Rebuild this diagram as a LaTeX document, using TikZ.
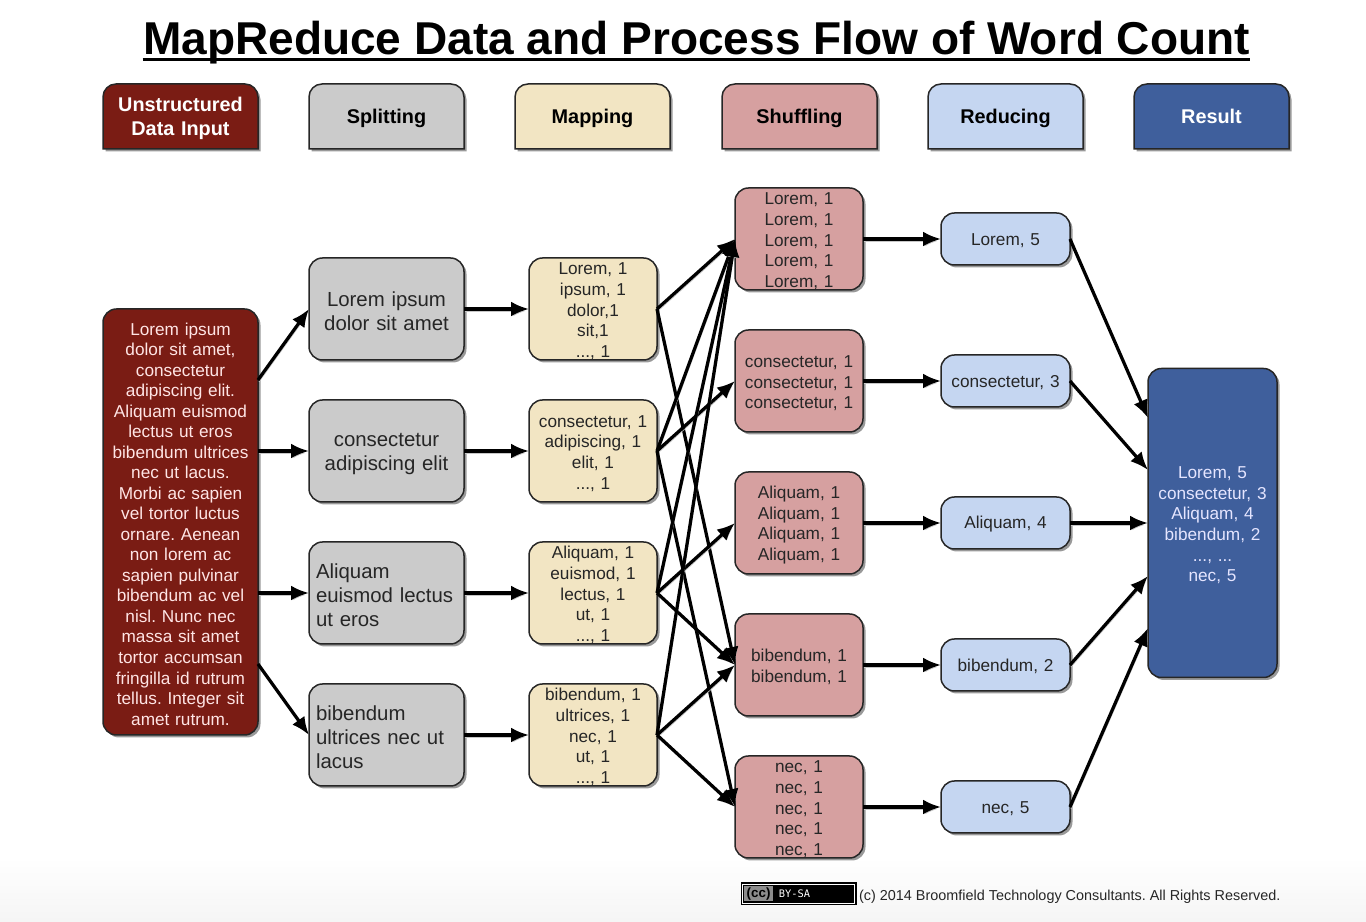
\documentclass[tikz,border=0pt]{standalone}
\usepackage{fontspec}
\setmainfont{Liberation Sans}
\setmonofont{DejaVu Sans Mono}
\usepackage{tikz}
\usetikzlibrary{positioning, arrows.meta, calc, shadows, backgrounds}
\usepackage{xcolor}
\frenchspacing

\definecolor{inputred}{HTML}{7A1C14}
\definecolor{splitgray}{HTML}{CBCBCB}
\definecolor{maptan}{HTML}{F2E5C3}
\definecolor{shufflepink}{HTML}{D6A0A0}
\definecolor{reduceblue}{HTML}{C5D6F1}
\definecolor{resultblue}{HTML}{3F5F9C}

\newcommand{\hdrshape}[2]{%
  \draw[hdrback, fill=#2] (#1.south west) [rounded corners=0.26cm] -- (#1.north west) -- (#1.north east) [sharp corners] -- (#1.south east) -- cycle;}

\begin{document}
\begin{tikzpicture}[
    shdw/.style={drop shadow={shadow xshift=0.05cm, shadow yshift=-0.05cm, opacity=0.4, fill=black}},
    hdr/.style={rectangle, outer sep=0pt, text width=2.8cm, minimum width=3.1cm, minimum height=1.3cm, align=center, font=\fontsize{11.3}{14}\selectfont\bfseries, execute at begin node={\rule{0pt}{10.4pt}}, execute at end node={\rule[-2.4pt]{0pt}{0pt}}},
    hdrback/.style={draw=black!85, line width=0.03cm, shdw},
    boxtop/.store in=\boxtopheight, boxtop=0.95em,
    box/.style={draw=black!85, line width=0.03cm, rectangle, rounded corners=0.27cm, outer sep=0pt, inner ysep=0pt, inner xsep=0.14cm, align=center, shdw, text=black!85, font=\fontsize{9.8}{11.75}\selectfont, execute at begin node={\rule{0pt}{\boxtopheight}}},
    splitbox/.style={box, fill=splitgray, text width=2.82cm, minimum height=2.04cm, font=\fontsize{11.6}{13.7}\selectfont},
    splitleft/.style={splitbox, align=left},
    mapbox/.style={box, fill=maptan, text width=2.28cm, minimum height=2.04cm},
    shufflebox/.style={box, fill=shufflepink, text width=2.28cm, minimum height=2.04cm},
    reducebox/.style={box, fill=reduceblue, text width=2.3cm, minimum height=1.04cm, boxtop=0.85em},
    arr/.style={-{Latex[length=0.36cm, width=0.3cm]}, line width=0.065cm, black, preaction={draw=black!22, transform canvas={shift={(0.02,-0.04)}}}}
]
    \path[use as bounding box] (0,0) rectangle (27.32,18.44);
    \shade[top color=white, bottom color=black!4] (0,0) rectangle (27.32,1.3);

    % title
    \node[inner sep=0pt, font=\fontsize{26.2}{30}\selectfont\bfseries] (title) at (13.93,17.58) {MapReduce Data and Process Flow of Word Count};
    \draw[line width=0.06cm] ([yshift=-0.09cm]title.base west) -- ([yshift=-0.09cm]title.base east);

    % header row
    \node[hdr, text=white] (hInput) at (3.61,16.11) {Unstructured\\Data Input};
    \node[hdr] (hSplit) [right=1.02cm of hInput] {Splitting};
    \node[hdr] (hMap) [right=1.02cm of hSplit] {Mapping};
    \node[hdr] (hShuffle) [right=1.04cm of hMap] {Shuffling};
    \node[hdr] (hReduce) [right=1.02cm of hShuffle] {Reducing};
    \node[hdr, text=white] (hResult) [right=1.02cm of hReduce] {Result};
    \begin{scope}[on background layer]
        \hdrshape{hInput}{inputred}
        \hdrshape{hSplit}{splitgray}
        \hdrshape{hMap}{maptan}
        \hdrshape{hShuffle}{shufflepink}
        \hdrshape{hReduce}{reduceblue}
        \hdrshape{hResult}{resultblue}
    \end{scope}

    % input
    \node[box, fill=inputred, text=white!90!red, text width=2.82cm, minimum height=8.52cm, font=\fontsize{9.8}{11.68}\selectfont] (input) at (3.61,8.0) {Lorem ipsum\\dolor sit amet,\\consectetur\\adipiscing elit.\\Aliquam euismod\\lectus ut eros\\bibendum ultrices\\nec ut lacus.\\Morbi ac sapien\\vel tortor luctus\\ornare. Aenean\\non lorem ac\\sapien pulvinar\\bibendum ac vel\\nisl. Nunc nec\\massa sit amet\\tortor accumsan\\fringilla id rutrum\\tellus. Integer sit\\amet rutrum.};

    % splitting
    \node[splitbox] (split1) at (7.73,12.26) {Lorem ipsum\\dolor sit amet};
    \node[splitbox] (split2) [below=0.8cm of split1] {consectetur\\adipiscing elit};
    \node[splitleft] (split3) [below=0.8cm of split2] {Aliquam\\euismod lectus\\ut eros};
    \node[splitleft] (split4) [below=0.8cm of split3] {bibendum\\ultrices nec ut\\lacus};

    % mapping
    \node[mapbox] (map1) [right=1.3cm of split1] {Lorem, 1\\ipsum, 1\\dolor,1\\sit,1\\..., 1};
    \node[mapbox] (map2) [right=1.3cm of split2] {consectetur, 1\\adipiscing, 1\\elit, 1\\..., 1};
    \node[mapbox] (map3) [right=1.3cm of split3] {Aliquam, 1\\euismod, 1\\lectus, 1\\ut, 1\\..., 1};
    \node[mapbox] (map4) [right=1.3cm of split4] {bibendum, 1\\ultrices, 1\\nec, 1\\ut, 1\\..., 1};

    % shuffling
    \node[shufflebox] (shuffle1) at (15.98,13.66) {Lorem, 1\\Lorem, 1\\Lorem, 1\\Lorem, 1\\Lorem, 1};
    \node[shufflebox] (shuffle2) [below=0.8cm of shuffle1] {consectetur, 1\\consectetur, 1\\consectetur, 1};
    \node[shufflebox] (shuffle3) [below=0.8cm of shuffle2] {Aliquam, 1\\Aliquam, 1\\Aliquam, 1\\Aliquam, 1};
    \node[shufflebox] (shuffle4) [below=0.8cm of shuffle3] {bibendum, 1\\bibendum, 1};
    \node[shufflebox] (shuffle5) [below=0.8cm of shuffle4] {nec, 1\\nec, 1\\nec, 1\\nec, 1\\nec, 1};

    % reducing
    \node[reducebox] (reduce1) [right=1.56cm of shuffle1] {Lorem, 5};
    \node[reducebox] (reduce2) [right=1.56cm of shuffle2] {consectetur, 3};
    \node[reducebox] (reduce3) [right=1.56cm of shuffle3] {Aliquam, 4};
    \node[reducebox] (reduce4) [right=1.56cm of shuffle4] {bibendum, 2};
    \node[reducebox] (reduce5) [right=1.56cm of shuffle5] {nec, 5};

    % result
    \node[box, fill=resultblue, text=white!90!blue, text width=2.3cm, minimum height=6.18cm] (result) [right=1.56cm of reduce3] {Lorem, 5\\consectetur, 3\\Aliquam, 4\\bibendum, 2\\..., ...\\nec, 5};

    \coordinate (inA) at ($(input.east)+(0,2.84)$);
    \coordinate (inB) at (input.east |- split2.west);
    \coordinate (inC) at (input.east |- split3.west);
    \coordinate (inD) at ($(input.east)+(0,-2.84)$);
    \coordinate (resA) at ($(result.west)+(0,2.1)$);
    \coordinate (resB) at ($(result.west)+(0,1.06)$);
    \coordinate (resD) at ($(result.west)+(0,-1.06)$);
    \coordinate (resE) at ($(result.west)+(0,-2.1)$);

    \draw[arr] (inA) -- (split1.west);
    \draw[arr] (inB) -- (split2.west);
    \draw[arr] (inC) -- (split3.west);
    \draw[arr] (inD) -- (split4.west);

    \draw[arr] (split1) -- (map1);
    \draw[arr] (split2) -- (map2);
    \draw[arr] (split3) -- (map3);
    \draw[arr] (split4) -- (map4);

    \draw[arr] (map1.east) -- (shuffle1.west);
    \draw[arr] (map1.east) -- (shuffle4.west);
    \draw[arr] (map2.east) -- (shuffle1.west);
    \draw[arr] (map2.east) -- (shuffle2.west);
    \draw[arr] (map2.east) -- (shuffle5.west);
    \draw[arr] (map3.east) -- (shuffle1.west);
    \draw[arr] (map3.east) -- (shuffle3.west);
    \draw[arr] (map3.east) -- (shuffle4.west);
    \draw[arr] (map4.east) -- (shuffle1.west);
    \draw[arr] (map4.east) -- (shuffle4.west);
    \draw[arr] (map4.east) -- (shuffle5.west);

    \draw[arr] (shuffle1) -- (reduce1);
    \draw[arr] (shuffle2) -- (reduce2);
    \draw[arr] (shuffle3) -- (reduce3);
    \draw[arr] (shuffle4) -- (reduce4);
    \draw[arr] (shuffle5) -- (reduce5);

    \draw[arr] (reduce1.east) -- (resA);
    \draw[arr] (reduce2.east) -- (resB);
    \draw[arr] (reduce3.east) -- (result.west);
    \draw[arr] (reduce4.east) -- (resD);
    \draw[arr] (reduce5.east) -- (resE);

    % licence badge and footer line
    \node[draw=black, double=white, double distance=0.02cm, line width=0.03cm, fill=black, minimum width=2.24cm, minimum height=0.38cm, inner sep=0pt] (badge) at (15.97,0.56) {};
    \node[fill=black!45, minimum width=0.58cm, minimum height=0.3cm, inner sep=0pt, font=\fontsize{7.6}{8}\selectfont\bfseries] (ccmark) [right=0.04cm of badge.west] {(cc)};
    \node[inner sep=0pt, text=white, font=\fontsize{5.9}{7}\selectfont\ttfamily] (bysa) [right=0.1cm of ccmark] {BY-SA};
    \node[inner sep=0pt, text=black!85, font=\fontsize{8.2}{10}\selectfont] (footer) [right=0.07cm of badge, yshift=-0.05cm] {(c) 2014 Broomfield Technology Consultants. All Rights Reserved.};
\end{tikzpicture}
\end{document}
